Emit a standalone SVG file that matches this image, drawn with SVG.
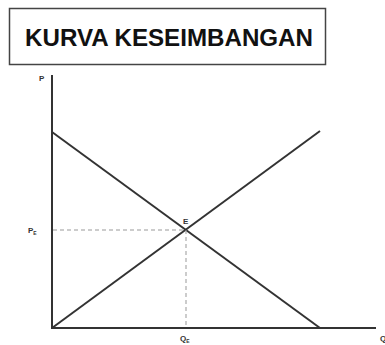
<svg xmlns="http://www.w3.org/2000/svg" width="385" height="345" viewBox="0 0 385 345">
<style>
.axis{stroke:#333;stroke-width:2;fill:none}
.curve{stroke:#333;stroke-width:2;fill:none}
.dash{stroke:#999;stroke-width:1;stroke-dasharray:4,3;fill:none}
.lbl{font-family:"Liberation Sans",Arial,sans-serif;font-weight:bold;fill:#333;font-size:8px}
.sub{font-size:5px}
</style>
<rect width="385" height="345" fill="#fff"/>
<g id="title">
<rect x="9.5" y="8.5" width="316" height="56" fill="#fff" stroke="#444" stroke-width="1.5"/>
<text x="25" y="45.5" font-family="'Liberation Sans',Arial,sans-serif" font-weight="bold" font-size="23" fill="#111" textLength="288" lengthAdjust="spacingAndGlyphs">KURVA KESEIMBANGAN</text>
</g>
<g id="axes">
<line class="axis" x1="52" y1="75" x2="52" y2="329"/>
<line class="axis" x1="51" y1="328" x2="376" y2="328"/>
<text class="lbl" x="39" y="81">P</text>
<text class="lbl" x="380" y="341">Q</text>
</g>
<g id="connectors">
<line class="curve" x1="52" y1="132" x2="320" y2="328"/>
<line class="curve" x1="52" y1="328" x2="320" y2="131"/>
<line class="dash" x1="53" y1="230" x2="186" y2="230"/>
<line class="dash" x1="186" y1="230" x2="186" y2="327"/>
</g>
<g id="labels">
<text class="lbl" x="28" y="233">P<tspan class="sub" dy="2">E</tspan></text>
<text class="lbl" x="180" y="341">Q<tspan class="sub" dy="2">E</tspan></text>
<text class="lbl" x="183" y="224" font-size="6">E</text>
</g>
</svg>
